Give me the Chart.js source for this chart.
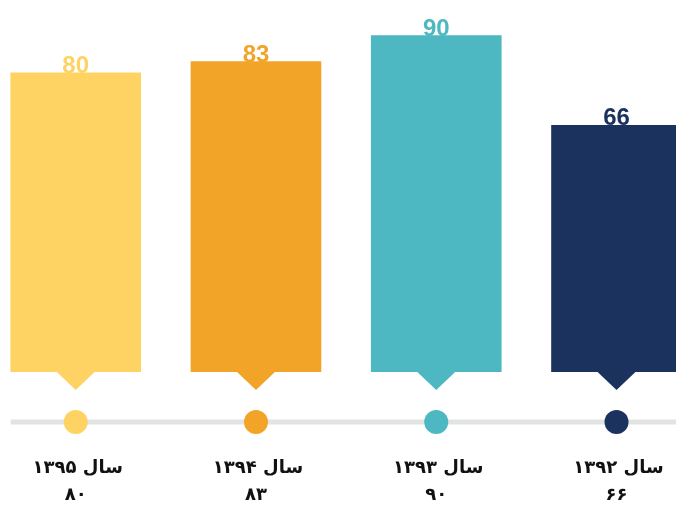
<!DOCTYPE html>
<html>
<head>
<meta charset="utf-8">
<script src="https://cdn.jsdelivr.net/npm/chart.js@4/dist/chart.umd.min.js"></script>
<style>
html,body{margin:0;padding:0;background:#fff;}
#wrap{width:676px;height:506px;position:relative;}
</style>
</head>
<body>
<div id="wrap"><canvas id="c" width="676" height="506"></canvas></div>
<script>
const categories = ["سال ۱۳۹۵", "سال ۱۳۹۴", "سال ۱۳۹۳", "سال ۱۳۹۲"];
const values = [80, 83, 90, 66];
const valueLabels = ["۸۰", "۸۳", "۹۰", "۶۶"];
const colors = ["#FED363", "#F1A428", "#4DB8C1", "#1B325F"];

const decor = {
  id: 'decor',
  afterDatasetsDraw(chart) {
    const ctx = chart.ctx;
    const meta = chart.getDatasetMeta(0);
    const area = chart.chartArea;
    ctx.save();
    // value labels above bars
    ctx.font = 'bold 24px "Liberation Sans", Arial, sans-serif';
    ctx.textAlign = 'center';
    ctx.textBaseline = 'alphabetic';
    meta.data.forEach((bar, i) => {
      ctx.fillStyle = colors[i];
      ctx.fillText(String(values[i]), bar.x, bar.y);
    });
    // pointer triangles
    meta.data.forEach((bar, i) => {
      ctx.fillStyle = colors[i];
      ctx.beginPath();
      ctx.moveTo(bar.x - 20, bar.base - 1);
      ctx.lineTo(bar.x + 20, bar.base - 1);
      ctx.lineTo(bar.x, bar.base + 18);
      ctx.closePath();
      ctx.fill();
    });
    // timeline
    const lineY = meta.data[0].base + 50;
    ctx.fillStyle = '#E2E3E3';
    const left = meta.data[0].x - meta.data[0].width / 2;
    ctx.fillRect(left, lineY - 2.5, area.right - left, 5);
    meta.data.forEach((bar, i) => {
      ctx.fillStyle = colors[i];
      ctx.beginPath();
      ctx.arc(bar.x, lineY, 12, 0, Math.PI * 2);
      ctx.fill();
    });
    // category labels
    ctx.fillStyle = '#111';
    ctx.direction = 'rtl';
    ctx.textBaseline = 'middle';
    meta.data.forEach((bar, i) => {
      ctx.font = 'bold 18px "DejaVu Sans", sans-serif';
      ctx.fillText(categories[i], bar.x + 2, lineY + 46);
      ctx.fillText(valueLabels[i], bar.x, lineY + 73);
    });
    ctx.restore();
  }
};

new Chart(document.getElementById('c'), {
  type: 'bar',
  data: {
    datasets: [{
      data: values.map((v, i) => ({x: i, y: v})),
      backgroundColor: colors,
      borderWidth: 0,
      barThickness: 130
    }]
  },
  options: {
    responsive: false,
    animation: false,
    layout: {padding: {top: 0, bottom: 134, left: 0, right: 0}},
    plugins: {legend: {display: false}, tooltip: {enabled: false}},
    scales: {
      x: {type: 'linear', display: false, offset: false, grid: {offset: false}, min: -0.42, max: 3.33},
      y: {display: false, min: 0, max: 99.5}
    }
  },
  plugins: [decor]
});
</script>
</body>
</html>
